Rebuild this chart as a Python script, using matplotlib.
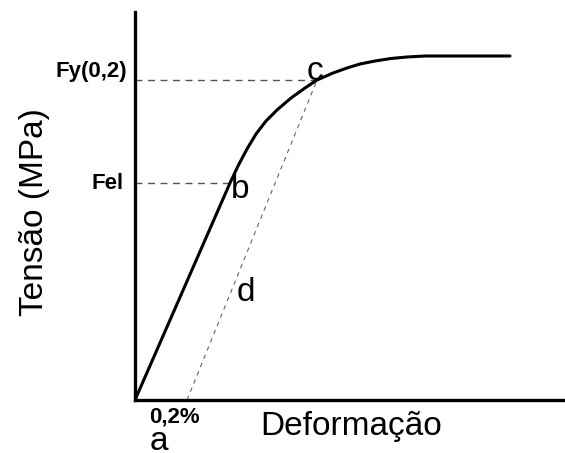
import matplotlib
matplotlib.use("Agg")
import matplotlib.pyplot as plt

plt.rcParams['font.family'] = ['Liberation Sans', 'DejaVu Sans']

# stress-strain curve (arbitrary units)
strain = [0, 95, 103, 112, 121, 131, 142, 156, 170, 182, 198, 212, 225,
          240, 256, 272, 290, 375]
stress = [0, 217, 234, 251, 266, 279, 290, 302, 312, 320, 327, 332, 336,
          339, 341.5, 343, 344, 344]

# key points
fel = (95, 217)      # b, elastic limit
fy = (182, 320)      # c, 0.2% offset yield
offset_x = 52        # a + 0.2%

fig = plt.figure(figsize=(5.65, 4.53), dpi=100)
ax = fig.add_axes([135 / 565, 53 / 453, 428 / 565, 388 / 453])

ax.plot(strain, stress, color='black', lw=2.2, solid_joinstyle='round',
        solid_capstyle='round', zorder=3)

# reference lines
ax.plot([0, fy[0]], [fy[1], fy[1]], color='#555555', lw=1.0, dashes=(5, 4))
ax.plot([0, fel[0]], [fel[1], fel[1]], color='#555555', lw=1.0, dashes=(5, 4))
ax.plot([offset_x, fy[0]], [0, fy[1]], color='#666666', lw=0.8, dashes=(4, 4))

ax.set_xlim(0, 428)
ax.set_ylim(0, 388)
ax.spines['top'].set_visible(False)
ax.spines['right'].set_visible(False)
ax.spines['left'].set_linewidth(2.4)
ax.spines['bottom'].set_linewidth(2.4)
ax.set_xticks([])
ax.set_yticks([])

# labels on the axes
ax.text(-8, 323, 'Fy(0,2)', ha='right', va='baseline', fontsize=16,
        fontweight='bold', clip_on=False)
ax.text(-11, 211, 'Fel', ha='right', va='baseline', fontsize=16,
        fontweight='bold', clip_on=False)
ax.text(39, -23, '0,2%', ha='center', va='baseline', fontsize=16,
        fontweight='bold', clip_on=False)

# point letters
ax.text(24, -50, 'a', ha='center', va='baseline', fontsize=24, clip_on=False)
ax.text(105, 202, 'b', ha='center', va='baseline', fontsize=24)
ax.text(180, 320, 'c', ha='center', va='baseline', fontsize=24)
ax.text(111, 99, 'd', ha='center', va='baseline', fontsize=24)

ax.text(216, -35, 'Deformação', ha='center', va='baseline', fontsize=24,
        clip_on=False)
fig.text(35 / 565, 1 - 212 / 453, 'Tensão (MPa)', rotation=90,
         ha='center', va='center', fontsize=24)

plt.savefig('out.png', dpi=100)
